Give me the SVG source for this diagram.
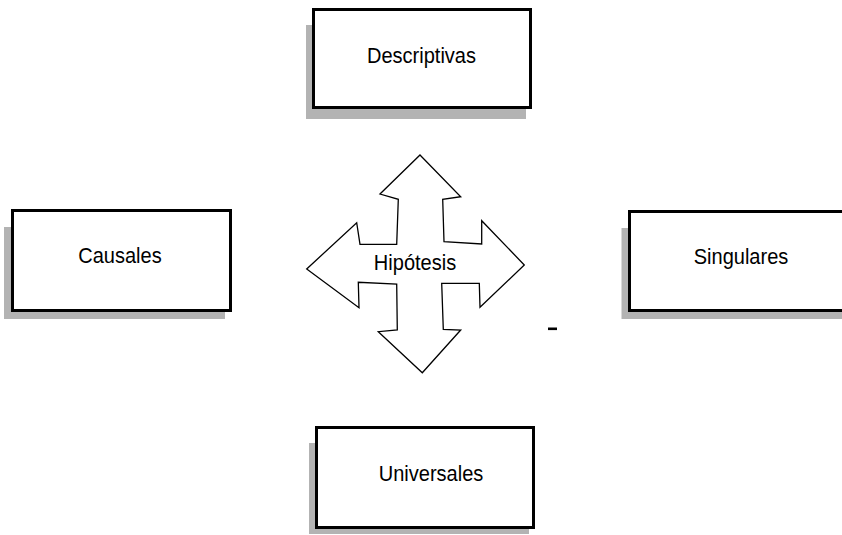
<svg xmlns="http://www.w3.org/2000/svg" width="842" height="535" viewBox="0 0 842 535">
  <style>
    .shadow { fill: #b3b3b3; stroke: none; }
    .box { fill: #ffffff; stroke: #000000; stroke-width: 3; }
    .label { font-family: "Liberation Sans", Arial, sans-serif; font-size: 22px; fill: #000000; text-anchor: middle; }
    .cross { fill: #ffffff; stroke: #000000; stroke-width: 1.3; stroke-linejoin: miter; }
  </style>
  <rect width="842" height="535" fill="#ffffff"/>

  <!-- top node -->
  <g id="descriptivas">
    <rect class="shadow" x="306" y="25" width="220" height="94"/>
    <rect class="box" x="313.5" y="9.5" width="217" height="98"/>
    <text class="label" transform="translate(421.5,62.5) scale(0.91,1)">Descriptivas</text>
  </g>

  <!-- left node -->
  <g id="causales">
    <rect class="shadow" x="4" y="227" width="221" height="92"/>
    <rect class="box" x="12.5" y="210.5" width="218" height="100"/>
    <text class="label" transform="translate(120,262.5) scale(0.91,1)">Causales</text>
  </g>

  <!-- right node, running off the page edge -->
  <g id="singulares">
    <rect class="shadow" x="621.5" y="228" width="230" height="91"/>
    <rect class="box" x="629.5" y="211.5" width="230" height="99"/>
    <text class="label" transform="translate(741,263.5) scale(0.91,1)">Singulares</text>
  </g>

  <!-- bottom node -->
  <g id="universales">
    <rect class="shadow" x="309" y="443" width="220" height="91"/>
    <rect class="box" x="316.5" y="427.5" width="217" height="100"/>
    <text class="label" transform="translate(431,480.5) scale(0.91,1)">Universales</text>
  </g>

  <!-- central four-way arrow -->
  <g id="connectors">
    <g id="hipotesis">
      <path class="cross" d="M420,155 L460.7,196.7 L442.7,199.3 L444,241.7 L481.7,244 L481.7,220.7 L524.3,265 L480,307.3 L479.3,283.3 L441.7,283.3 L443.3,329.3 L460.7,330 L422.3,372.7 L378.3,331.7 L397.3,330 L396.7,284 L358.3,282.3 L359,307.7 L306.7,269 L356.7,222.7 L360,244.3 L396.7,244.3 L398.3,199.3 L380,194 Z"/>
      <text class="label" transform="translate(415,270) scale(0.91,1)">Hipótesis</text>
    </g>
    <line x1="548" y1="328.8" x2="557" y2="328.8" stroke="#000000" stroke-width="2.6"/>
  </g>
</svg>
